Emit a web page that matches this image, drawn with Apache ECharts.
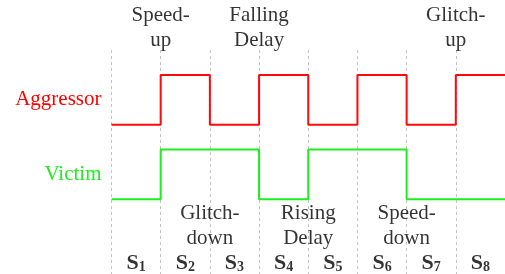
<!DOCTYPE html>
<html>
<head>
<meta charset="utf-8">
<script src="https://cdn.jsdelivr.net/npm/echarts@6/dist/echarts.min.js"></script>
<style>
  html, body { margin: 0; padding: 0; background: #fff; }
  #chart { width: 505px; height: 274px; }
</style>
</head>
<body>
<div id="chart"></div>
<script>
// logic level of each signal in slots S1..S8
const slots = ['1', '2', '3', '4', '5', '6', '7', '8'];
const aggressor = [0, 1, 0, 1, 0, 1, 0, 1];
const victim = [0, 1, 1, 0, 1, 1, 0, 0];
// effect names, placed at the slot boundary where they happen
const topNotes = ['Speed-\nup', 'Falling\nDelay', 'Glitch-\nup'];
const topAt = [1, 3, 7];
const bottomNotes = ['Glitch-\ndown', 'Rising\nDelay', 'Speed-\ndown'];
const bottomAt = [2, 4, 6];

const AGG_BASE = 1.5;   // aggressor drawn above victim
const serif = 'Liberation Serif';

function stepData(levels, base) {
  let d = levels.map((v, i) => [i, base + v]);
  d.push([levels.length, base + levels[levels.length - 1]]);
  return d;
}

let chart = echarts.init(document.getElementById('chart'));

let option = {
  animation: false,
  grid: { left: 111.5, width: 395, top: 50, bottom: 0 },
  xAxis: {
    type: 'value',
    min: 0,
    max: 8,
    interval: 1,
    axisLine: { show: false },
    axisTick: { show: false },
    axisLabel: { show: false },
    splitLine: {
      show: true,
      lineStyle: { color: '#c4c4c4', type: [3, 3], width: 1 }
    }
  },
  yAxis: {
    type: 'value',
    min: -1.5,
    max: 3,
    interval: 0.5,
    axisLine: { show: false },
    axisTick: { show: false },
    splitLine: { show: false },
    axisLabel: {
      margin: 10,
      fontFamily: serif,
      fontSize: 21,
      formatter: v => v === AGG_BASE + 0.5 ? 'Aggressor' : (v === 0.5 ? 'Victim' : ''),
      color: v => v > 1 ? '#ff0000' : '#1eee1e'
    }
  },
  series: [
    {
      name: 'Aggressor',
      type: 'line',
      step: 'end',
      symbol: 'none',
      data: stepData(aggressor, AGG_BASE),
      lineStyle: { color: '#ff0a0a', width: 2 }
    },
    {
      name: 'Victim',
      type: 'line',
      step: 'end',
      symbol: 'none',
      data: stepData(victim, 0),
      lineStyle: { color: '#1eee1e', width: 2 }
    },
    {
      // effect labels above and below the waveforms
      type: 'scatter',
      clip: false,
      symbolSize: 1,
      itemStyle: { color: 'rgba(0,0,0,0)' },
      label: {
        show: true,
        position: 'inside',
        formatter: p => p.data[2],
        fontFamily: serif,
        fontSize: 21,
        lineHeight: 25,
        color: '#000',
        align: 'center'
      },
      data: topNotes.map((t, i) => [topAt[i], 3.45, t])
        .concat(bottomNotes.map((t, i) => [bottomAt[i], -0.53, t]))
    },
    {
      // slot names S1..S8
      type: 'scatter',
      clip: false,
      symbolSize: 1,
      itemStyle: { color: 'rgba(0,0,0,0)' },
      label: {
        show: true,
        position: 'inside',
        formatter: p => '{s|S}{n|' + p.data[2] + '}',
        rich: {
          s: { fontFamily: serif, fontSize: 22, fontWeight: 'bold', color: '#000', lineHeight: 22 },
          n: { fontFamily: serif, fontSize: 14, fontWeight: 'bold', color: '#000', lineHeight: 14, verticalAlign: 'bottom', padding: [4, 0, 0, 0] }
        }
      },
      data: slots.map((s, i) => [i + 0.5, -1.28, s])
    }
  ]
};

chart.setOption(option);
</script>
</body>
</html>
